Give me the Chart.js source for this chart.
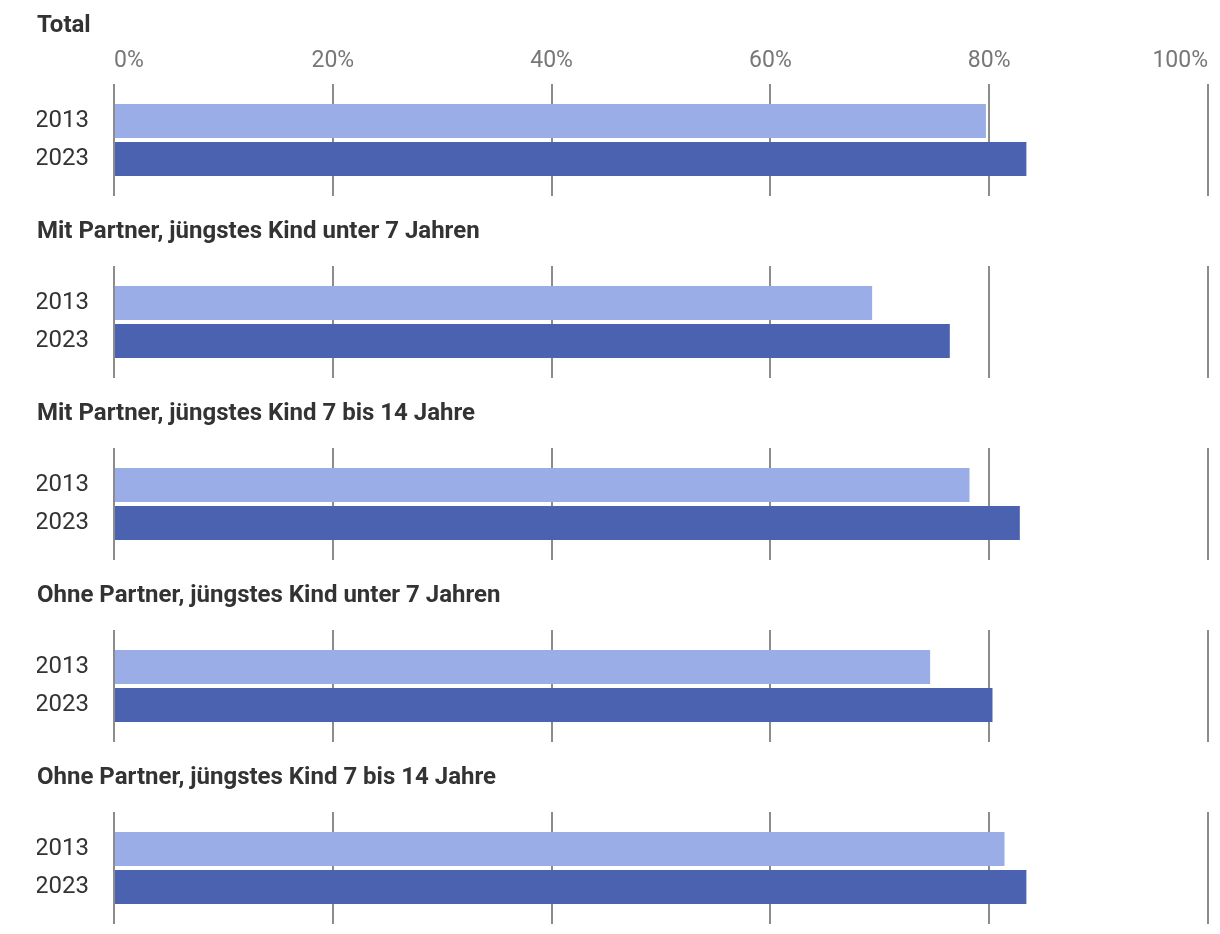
<!DOCTYPE html>
<html>
<head>
<meta charset="utf-8">
<script src="https://cdn.jsdelivr.net/npm/chart.js@4.4.1/dist/chart.umd.min.js"></script>
<style>
  body { margin: 0; background: #fff; }
  #wrap { position: relative; width: 1220px; height: 934px; overflow: hidden; }
  canvas { position: absolute; left: 0; }
</style>
</head>
<body>
<div id="wrap"></div>
<script>
// Daten: Anteil erwerbstätiger Mütter (%)
const panelTitles = [
  'Total',
  'Mit Partner, jüngstes Kind unter 7 Jahren',
  'Mit Partner, jüngstes Kind 7 bis 14 Jahre',
  'Ohne Partner, jüngstes Kind unter 7 Jahren',
  'Ohne Partner, jüngstes Kind 7 bis 14 Jahre'
];
const years = ['2013', '2023'];
const values2013 = [79.7, 69.3, 78.2, 74.6, 81.4];
const values2023 = [83.4, 76.4, 82.8, 80.3, 83.4];
const axisMax = 100;
const axisStep = 20;

const colors = { light: '#9badE6', dark: '#4a62b0', grid: '#8c8c8c' };
const FONT = 'Roboto';
const TICK_LEN = 18;
const TICK_PAD = 9.2;
const TICK_SIZE = 23;

function makePanel(i) {
  const first = i === 0;
  const height = first ? 200 : 182;
  const top = first ? 0 : 200 + (i - 1) * 182;

  const canvas = document.createElement('canvas');
  canvas.width = 1220;
  canvas.height = height;
  canvas.style.top = top + 'px';
  document.getElementById('wrap').appendChild(canvas);

  const gridOpts = { color: colors.grid, lineWidth: 2, tickLength: TICK_LEN, drawTicks: true };

  new Chart(canvas.getContext('2d'), {
    type: 'bar',
    data: {
      labels: years,
      datasets: [{
        data: [values2013[i], values2023[i]],
        backgroundColor: [colors.light, colors.dark],
        barPercentage: 0.9,
        categoryPercentage: 1
      }]
    },
    options: {
      indexAxis: 'y',
      responsive: false,
      animation: false,
      layout: { padding: { left: 37, right: 12, top: 0, bottom: 4 } },
      plugins: {
        legend: { display: false },
        tooltip: { enabled: false },
        title: {
          display: true,
          text: panelTitles[i],
          align: 'start',
          color: '#333',
          font: { family: FONT, size: 24, weight: 'bold' },
          padding: first ? { top: 11.5, bottom: 6.9 } : { top: 17.6, bottom: 19.6 }
        }
      },
      scales: {
        x: {
          position: 'top',
          min: 0,
          max: axisMax,
          border: { display: false },
          grid: gridOpts,
          ticks: {
            display: first,
            stepSize: axisStep,
            align: 'inner',
            padding: TICK_PAD,
            color: '#777',
            font: { family: FONT, size: TICK_SIZE },
            callback: v => v + '%'
          },
          // Chart.js reserviert das Padding doppelt; hier nur einfach
          afterFit: s => {
            if (first) s.height = TICK_LEN + TICK_PAD + TICK_SIZE * 1.2;
          }
        },
        x2: {
          axis: 'x',
          position: 'bottom',
          min: 0,
          max: axisMax,
          border: { display: false },
          grid: Object.assign({}, gridOpts, { drawOnChartArea: false }),
          ticks: { display: false, stepSize: axisStep }
        },
        y: {
          border: { display: false },
          grid: { display: false, drawTicks: false },
          ticks: {
            autoSkip: false,
            padding: 25,
            color: '#333',
            font: { family: FONT, size: 24 }
          },
          afterFit: s => {
            s.width = 77;
            s.paddingTop = 0;
            s.paddingBottom = 0;
          }
        }
      }
    }
  });
}

panelTitles.forEach((t, i) => makePanel(i));
</script>
</body>
</html>
